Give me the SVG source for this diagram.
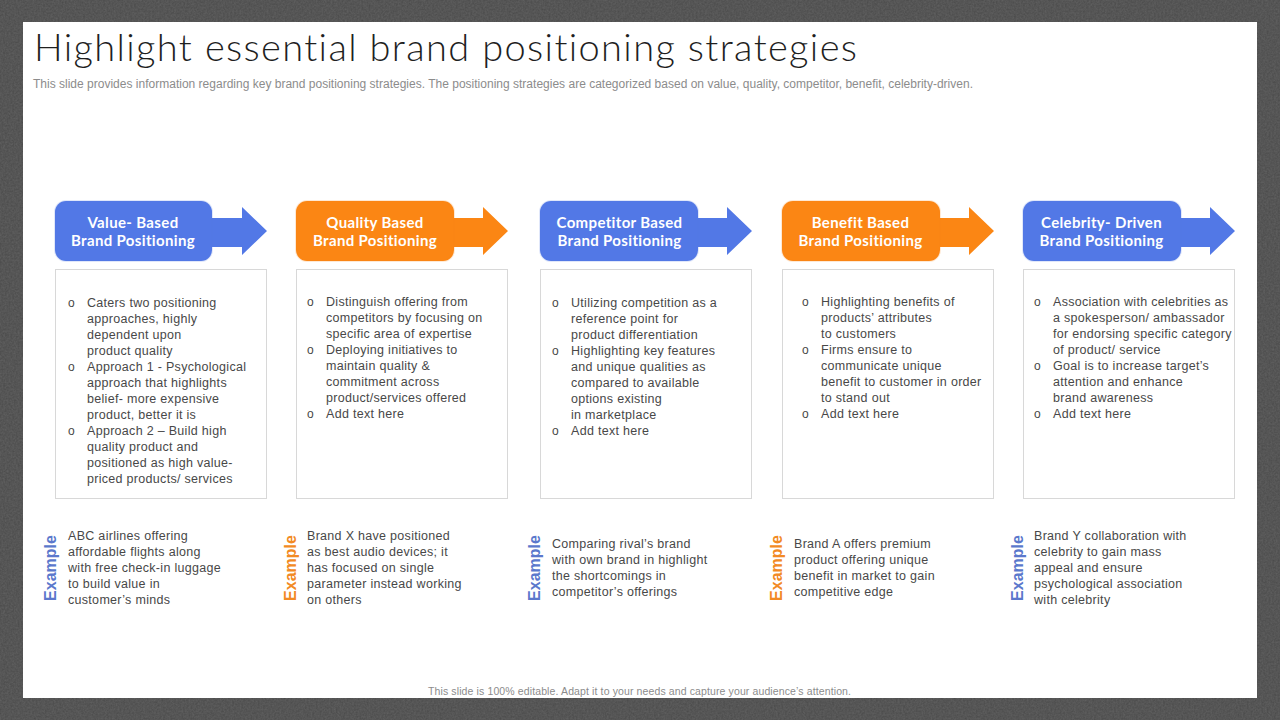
<svg xmlns="http://www.w3.org/2000/svg" width="1280" height="720" viewBox="0 0 1280 720">
<style>
.t{font-family:"Liberation Sans",Arial,sans-serif;font-size:12.5px;letter-spacing:.3px;fill:#484848}
.o{font-size:12px;letter-spacing:0}
.h{font-family:"Lato","Open Sans",sans-serif;font-size:15px;font-weight:700;letter-spacing:.35px;fill:#fff;text-anchor:middle}
.e{font-family:"Liberation Sans",Arial,sans-serif;font-size:16px;font-weight:700;text-anchor:middle}
.box{fill:#fff;stroke:#d8d8d8;stroke-width:1}
.blue{fill:#5278e6}.orange{fill:#fb8614}
.bg{stroke:#5278e6;stroke-opacity:.18;stroke-width:2}.og{stroke:#fb8614;stroke-opacity:.18;stroke-width:2}
.eb{fill:#5b78cc}.eo{fill:#f28a24}
.s{font-family:"Liberation Sans",Arial,sans-serif;font-size:12px;fill:#8c8c8c}
</style>
<defs><filter id="noise" x="0" y="0" width="100%" height="100%" color-interpolation-filters="sRGB"><feTurbulence type="fractalNoise" baseFrequency=".55" numOctaves="2" seed="4"/><feColorMatrix values=".1 0 0 0 .285  .1 0 0 0 .285  .1 0 0 0 .285  0 0 0 0 1"/></filter></defs>
<rect width="1280" height="720" fill="#555555"/>
<rect width="1280" height="720" filter="url(#noise)"/>
<rect x="23" y="22" width="1234" height="676" fill="#fff"/>
<text x="34" y="61" font-family="Lato,'Open Sans',sans-serif" font-weight="300" font-size="38" fill="#1f1f1f" style="font-variant-ligatures:none" textLength="823" lengthAdjust="spacing">Highlight essential brand positioning strategies</text>
<text class="s" x="33" y="88" textLength="940" lengthAdjust="spacing">This slide provides information regarding key brand positioning strategies. The positioning strategies are categorized based on value, quality, competitor, benefit, celebrity-driven.</text>
<g id="col1">
<path class="blue" d="M205 218H242V207L267 231L242 255V247H205Z"/><rect class="blue bg" x="55" y="201" width="157" height="60" rx="11"/>
<text class="h" x="133" y="228">Value- Based</text><text class="h" x="133" y="246">Brand Positioning</text>
<rect class="box" x="55.500" y="269.500" width="211" height="229"/>
<g class="t"><text class="o" x="68" y="307">o</text><text x="87" y="307">Caters two positioning</text><text x="87" y="323">approaches, highly</text><text x="87" y="339">dependent upon</text><text x="87" y="355">product quality</text><text class="o" x="68" y="371">o</text><text x="87" y="371">Approach 1 - Psychological</text><text x="87" y="387">approach that highlights</text><text x="87" y="403">belief- more expensive</text><text x="87" y="419">product, better it is</text><text class="o" x="68" y="435">o</text><text x="87" y="435">Approach 2 – Build high</text><text x="87" y="451">quality product and</text><text x="87" y="467">positioned as high value-</text><text x="87" y="483">priced products/ services</text></g>
<text class="e eb" transform="translate(55.500 568) rotate(-90)">Example</text>
<g class="t"><text x="68" y="540">ABC airlines offering</text><text x="68" y="556">affordable flights along</text><text x="68" y="572">with free check-in luggage</text><text x="68" y="588">to build value in</text><text x="68" y="604">customer’s minds</text></g>
</g>
<g id="col2">
<path class="orange" d="M446 218H483V207L508 231L483 255V247H446Z"/><rect class="orange og" x="296" y="201" width="158" height="60" rx="11"/>
<text class="h" x="375" y="228">Quality Based</text><text class="h" x="375" y="246">Brand Positioning</text>
<rect class="box" x="296.500" y="269.500" width="211" height="229"/>
<g class="t"><text class="o" x="307" y="306">o</text><text x="326" y="306">Distinguish offering from</text><text x="326" y="322">competitors by focusing on</text><text x="326" y="338">specific area of expertise</text><text class="o" x="307" y="354">o</text><text x="326" y="354">Deploying initiatives to</text><text x="326" y="370">maintain quality &amp;</text><text x="326" y="386">commitment across</text><text x="326" y="402">product/services offered</text><text class="o" x="307" y="418">o</text><text x="326" y="418">Add text here</text></g>
<text class="e eo" transform="translate(295.500 568) rotate(-90)">Example</text>
<g class="t"><text x="307" y="540">Brand X have positioned</text><text x="307" y="556">as best audio devices; it</text><text x="307" y="572">has focused on single</text><text x="307" y="588">parameter instead working</text><text x="307" y="604">on others</text></g>
</g>
<g id="col3">
<path class="blue" d="M690 218H727V207L752 231L727 255V247H690Z"/><rect class="blue bg" x="540" y="201" width="158" height="60" rx="11"/>
<text class="h" x="619.500" y="228">Competitor Based</text><text class="h" x="619.500" y="246">Brand Positioning</text>
<rect class="box" x="540.500" y="269.500" width="211" height="229"/>
<g class="t"><text class="o" x="552" y="307">o</text><text x="571" y="307">Utilizing competition as a</text><text x="571" y="323">reference point for</text><text x="571" y="339">product differentiation</text><text class="o" x="552" y="355">o</text><text x="571" y="355">Highlighting key features</text><text x="571" y="371">and unique qualities as</text><text x="571" y="387">compared to available</text><text x="571" y="403">options existing</text><text x="571" y="419">in marketplace</text><text class="o" x="552" y="435">o</text><text x="571" y="435">Add text here</text></g>
<text class="e eb" transform="translate(539.500 568) rotate(-90)">Example</text>
<g class="t"><text x="552" y="548">Comparing rival’s brand</text><text x="552" y="564">with own brand in highlight</text><text x="552" y="580">the shortcomings in</text><text x="552" y="596">competitor’s offerings</text></g>
</g>
<g id="col4">
<path class="orange" d="M932 218H969V207L994 231L969 255V247H932Z"/><rect class="orange og" x="782" y="201" width="158" height="60" rx="11"/>
<text class="h" x="860.500" y="228">Benefit Based</text><text class="h" x="860.500" y="246">Brand Positioning</text>
<rect class="box" x="782.500" y="269.500" width="211" height="229"/>
<g class="t"><text class="o" x="802" y="306">o</text><text x="821" y="306">Highlighting benefits of</text><text x="821" y="322">products’ attributes</text><text x="821" y="338">to customers</text><text class="o" x="802" y="354">o</text><text x="821" y="354">Firms ensure to</text><text x="821" y="370">communicate unique</text><text x="821" y="386">benefit to customer in order</text><text x="821" y="402">to stand out</text><text class="o" x="802" y="418">o</text><text x="821" y="418">Add text here</text></g>
<text class="e eo" transform="translate(781.500 568) rotate(-90)">Example</text>
<g class="t"><text x="794" y="548">Brand A offers premium</text><text x="794" y="564">product offering unique</text><text x="794" y="580">benefit in market to gain</text><text x="794" y="596">competitive edge</text></g>
</g>
<g id="col5">
<path class="blue" d="M1173 218H1210V207L1235 231L1210 255V247H1173Z"/><rect class="blue bg" x="1023" y="201" width="158" height="60" rx="11"/>
<text class="h" x="1101.500" y="228">Celebrity- Driven</text><text class="h" x="1101.500" y="246">Brand Positioning</text>
<rect class="box" x="1023.500" y="269.500" width="211" height="229"/>
<g class="t"><text class="o" x="1034" y="306">o</text><text x="1053" y="306">Association with celebrities as</text><text x="1053" y="322">a spokesperson/ ambassador</text><text x="1053" y="338">for endorsing specific category</text><text x="1053" y="354">of product/ service</text><text class="o" x="1034" y="370">o</text><text x="1053" y="370">Goal is to increase target’s</text><text x="1053" y="386">attention and enhance</text><text x="1053" y="402">brand awareness</text><text class="o" x="1034" y="418">o</text><text x="1053" y="418">Add text here</text></g>
<text class="e eb" transform="translate(1023 568) rotate(-90)">Example</text>
<g class="t"><text x="1034" y="540">Brand Y collaboration with</text><text x="1034" y="556">celebrity to gain mass</text><text x="1034" y="572">appeal and ensure</text><text x="1034" y="588">psychological association</text><text x="1034" y="604">with celebrity</text></g>
</g>
<text class="s" x="428" y="695" style="font-size:10.500px" textLength="423" lengthAdjust="spacing">This slide is 100% editable. Adapt it to your needs and capture your audience’s attention.</text>
</svg>
